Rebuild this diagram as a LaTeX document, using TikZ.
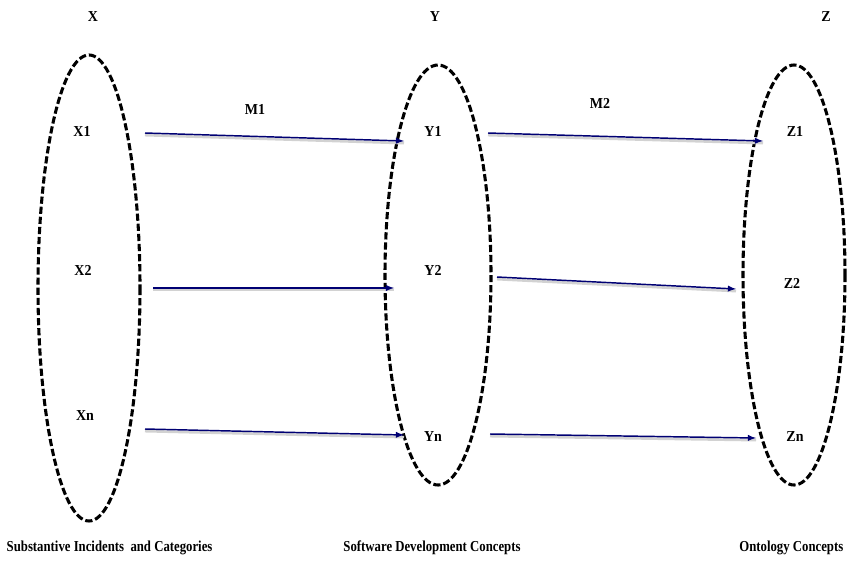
\documentclass[tikz,border=0pt]{standalone}
\usepackage{fontspec}
\setmainfont[FakeStretch=0.92]{Liberation Serif}
\newfontfamily\narrowfont[FakeStretch=0.84]{Liberation Serif}
\tikzset{
	set/.style = {draw, line width = 2.3pt, dash pattern = on 5.4pt off 2.2pt},
	lbl/.style = {font = \bfseries\fontsize{11.4}{13}\selectfont},
	caption/.style = {font = \narrowfont\bfseries\fontsize{11.4}{13}\selectfont},
	map/.style = {draw = blue!45!black, line width = 1.1pt, -latex,
		preaction = {draw = gray!35, line width = 2pt, -, transform canvas = {yshift = -1.6pt}}}
}
\begin{document}
\begin{tikzpicture} [x = 0.75pt, y = -0.75pt]
	\useasboundingbox (0,0) rectangle (848,564);
	% the three sets
	\draw [set] (89,288) ellipse [x radius = 51, y radius = 233];
	\draw [set] (438,275) ellipse [x radius = 53, y radius = 210];
	\draw [set] (794,275) ellipse [x radius = 51, y radius = 210];
	\node [lbl] (X) at (93,17) {X};
	\node [lbl] (Y) at (435,17) {Y};
	\node [lbl] (Z) at (826,17) {Z};
	\node [lbl] (X1) at (82,131) {X1};
	\node [lbl] (X2) at (83,270) {X2};
	\node [lbl] (Xn) at (85,416) {Xn};
	\node [lbl] (Y1) at (433,131) {Y1};
	\node [lbl] (Y2) at (433,270) {Y2};
	\node [lbl] (Yn) at (433,437) {Yn};
	\node [lbl] (Z1) at (795,131) {Z1};
	\node [lbl] (Z2) at (792,283) {Z2};
	\node [lbl] (Zn) at (795,437) {Zn};
	\node [lbl] (M1) at (255,109) {M1};
	\node [lbl] (M2) at (600,103) {M2};
	\node [caption, anchor = west] (setX) at (2,548) {Substantive Incidents \ and Categories};
	\node [caption] (setY) at (432,548) {Software Development Concepts};
	\node [caption, anchor = east] (setZ) at (848,548) {Ontology Concepts};
	% mappings
	\coordinate (x1) at (145,133); \coordinate (y1in) at (404,141);
	\coordinate (x2) at (153,288); \coordinate (y2in) at (394,288);
	\coordinate (xn) at (145,429); \coordinate (ynin) at (404,435);
	\coordinate (y1) at (488,133); \coordinate (z1in) at (763,141);
	\coordinate (y2) at (497,277); \coordinate (z2in) at (736,289);
	\coordinate (yn) at (490,434); \coordinate (znin) at (756,438);
	\draw [map] (x1) -- (y1in);
	\draw [map] (x2) -- (y2in);
	\draw [map] (xn) -- (ynin);
	\draw [map] (y1) -- (z1in);
	\draw [map] (y2) -- (z2in);
	\draw [map] (yn) -- (znin);
\end{tikzpicture}
\end{document}
